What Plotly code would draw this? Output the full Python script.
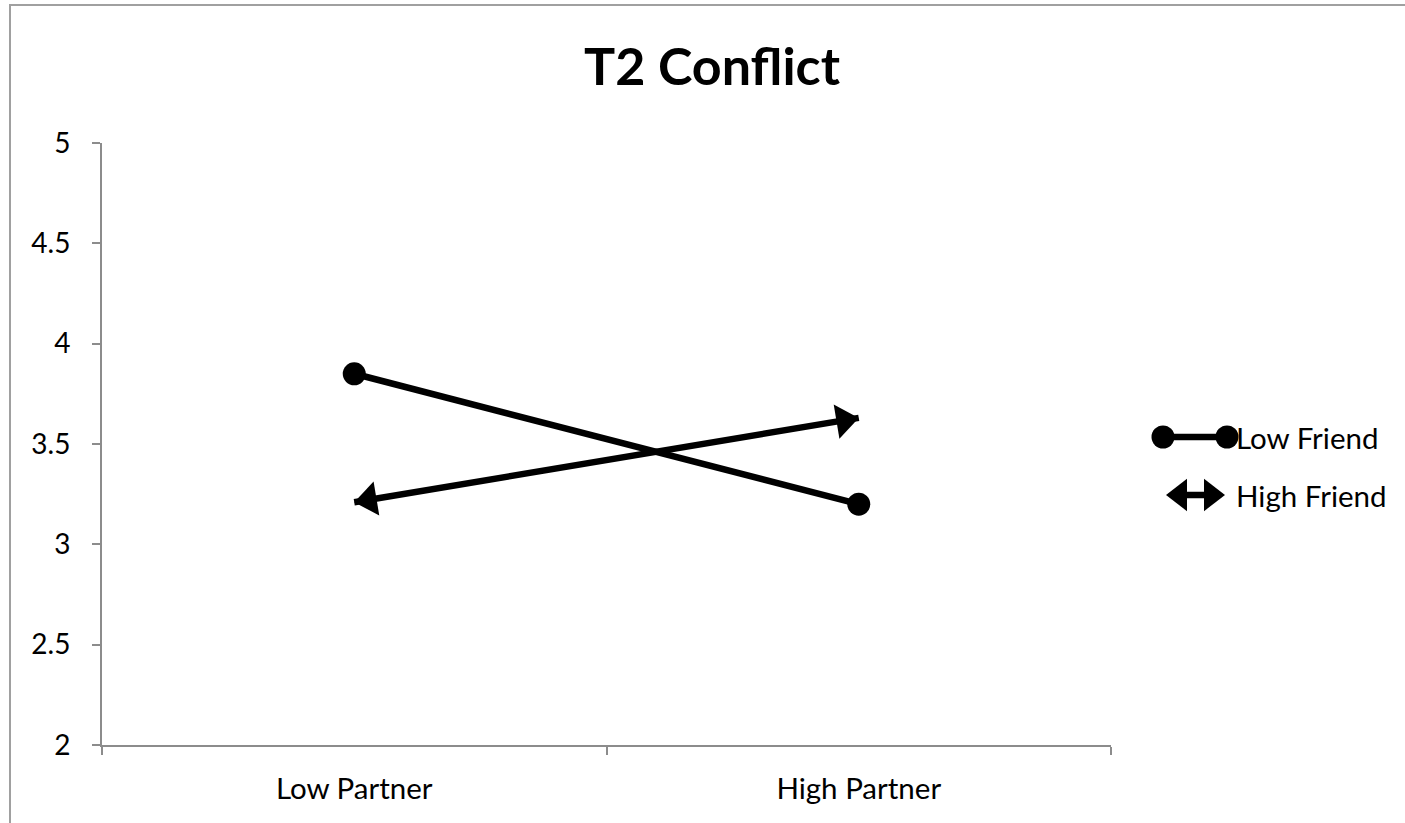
import plotly.graph_objects as go

# ---------------- data ----------------
categories = ["Low Partner", "High Partner"]
low_friend = [3.85, 3.20]
high_friend = [3.21, 3.63]
series_names = ["Low Friend", "High Friend"]
y_ticks = [2, 2.5, 3, 3.5, 4, 4.5, 5]
y_tick_labels = ["2", "2.5", "3", "3.5", "4", "4.5", "5"]
title_text = "T2 Conflict"

# ---------------- layout geometry ----------------
W, H = 1405, 823
L, R, T, B = 102, 2, 143, 78
PW, PH = W - L - R, H - T - B


def px2x(px):
    return (px - L) / PW


def py2y(py):
    return (H - B - py) / PH


FONT = "Lato"
BLACK = "#000000"
AXIS_GRAY = "#8c8c8c"
LINE_W = 6.5
DOT_SIZE = 23
HEAD_SIZE = 30          # triangle arrow-head size

fig = go.Figure()


def head_marker(n, size=HEAD_SIZE):
    # arrow-head only on the last point of the trace (direction = from previous point)
    sizes = [0] * (n - 1) + [size]
    return dict(symbol="triangle-up", size=sizes, color=BLACK, opacity=1,
                angleref="previous", standoff=size / 2, line=dict(width=0))


# Low Friend series
fig.add_trace(go.Scatter(
    x=categories, y=low_friend, name=series_names[0], mode="lines+markers",
    line=dict(color=BLACK, width=LINE_W),
    marker=dict(symbol="circle", size=DOT_SIZE, color=BLACK),
    showlegend=False, xaxis="x", yaxis="y"))

# High Friend series: line, arrow-head at the end and at the start
fig.add_trace(go.Scatter(
    x=categories, y=high_friend, name=series_names[1], mode="lines",
    line=dict(color=BLACK, width=LINE_W, backoff=6),
    showlegend=False, xaxis="x", yaxis="y"))
fig.add_trace(go.Scatter(
    x=categories, y=high_friend, name=series_names[1], mode="markers",
    marker=head_marker(len(categories)), showlegend=False, xaxis="x", yaxis="y"))
fig.add_trace(go.Scatter(
    x=categories[::-1], y=high_friend[::-1], name=series_names[1], mode="markers",
    marker=head_marker(len(categories)), showlegend=False, xaxis="x", yaxis="y"))

# ---------------- custom legend (pixel-unit helper axes) ----------------
LEG_X0, LEG_X1 = 1140, 1400
leg_rows = [437, 495]
fig.add_trace(go.Scatter(
    x=[1163, 1227], y=[leg_rows[0], leg_rows[0]], mode="lines+markers",
    line=dict(color=BLACK, width=LINE_W),
    marker=dict(symbol="circle", size=DOT_SIZE, color=BLACK),
    showlegend=False, hoverinfo="skip", xaxis="x2", yaxis="y2"))
fig.add_trace(go.Scatter(
    x=[1176, 1215], y=[leg_rows[1], leg_rows[1]], mode="lines",
    line=dict(color=BLACK, width=LINE_W),
    showlegend=False, hoverinfo="skip", xaxis="x2", yaxis="y2"))
fig.add_trace(go.Scatter(
    x=[1166, 1225], y=[leg_rows[1], leg_rows[1]], mode="markers",
    marker=head_marker(2, 28), showlegend=False, hoverinfo="skip", xaxis="x2", yaxis="y2"))
fig.add_trace(go.Scatter(
    x=[1225, 1166], y=[leg_rows[1], leg_rows[1]], mode="markers",
    marker=head_marker(2, 28), showlegend=False, hoverinfo="skip", xaxis="x2", yaxis="y2"))

annotations = []
for name, row in zip(series_names, leg_rows):
    annotations.append(dict(
        x=1234, y=row, xref="x2", yref="y2", text=name, showarrow=False,
        xanchor="left", yanchor="middle",
        font=dict(family=FONT, size=29.5, color=BLACK)))

# outer chart-area border (top & left visible)
shapes = [dict(
    type="rect", xref="paper", yref="paper",
    x0=px2x(10), x1=px2x(1600), y0=py2y(1000), y1=py2y(5),
    line=dict(color="#a0a0a0", width=2), fillcolor="rgba(0,0,0,0)", layer="below")]

fig.update_layout(
    width=W, height=H,
    margin=dict(l=L, r=R, t=T, b=B),
    paper_bgcolor="white", plot_bgcolor="white",
    title=dict(text="<b>" + title_text + "</b>", x=712 / W, xref="container",
               y=1 - 67 / H, yref="container", xanchor="center", yanchor="middle",
               font=dict(family=FONT, size=52, color=BLACK)),
    xaxis=dict(
        domain=[0, px2x(1111)], type="category", range=[-0.5, 1.5],
        showline=True, linecolor=AXIS_GRAY, linewidth=2,
        ticks="outside", tickson="boundaries", ticklen=8, tickwidth=2, tickcolor=AXIS_GRAY,
        showgrid=False, zeroline=False, ticklabelstandoff=17,
        tickfont=dict(family=FONT, size=29.5, color=BLACK), anchor="y", fixedrange=True),
    yaxis=dict(
        domain=[0, 1], range=[2, 5], tickvals=y_ticks, ticktext=y_tick_labels,
        showline=True, linecolor=AXIS_GRAY, linewidth=2,
        ticks="outside", ticklen=8, tickwidth=2, tickcolor=AXIS_GRAY,
        showgrid=False, zeroline=False, ticklabelstandoff=16,
        tickfont=dict(family=FONT, size=28, color=BLACK), anchor="x", fixedrange=True),
    xaxis2=dict(domain=[px2x(LEG_X0), px2x(LEG_X1)], range=[LEG_X0, LEG_X1],
                visible=False, anchor="y2", fixedrange=True),
    yaxis2=dict(domain=[0, 1], range=[H - B, T], visible=False, anchor="x2",
                fixedrange=True),
    annotations=annotations,
    shapes=shapes,
    showlegend=False,
)

fig.write_html(
    "out.html",
    config={"displayModeBar": False},
    post_script="document.body.style.margin='0';document.body.style.overflow='hidden';")
